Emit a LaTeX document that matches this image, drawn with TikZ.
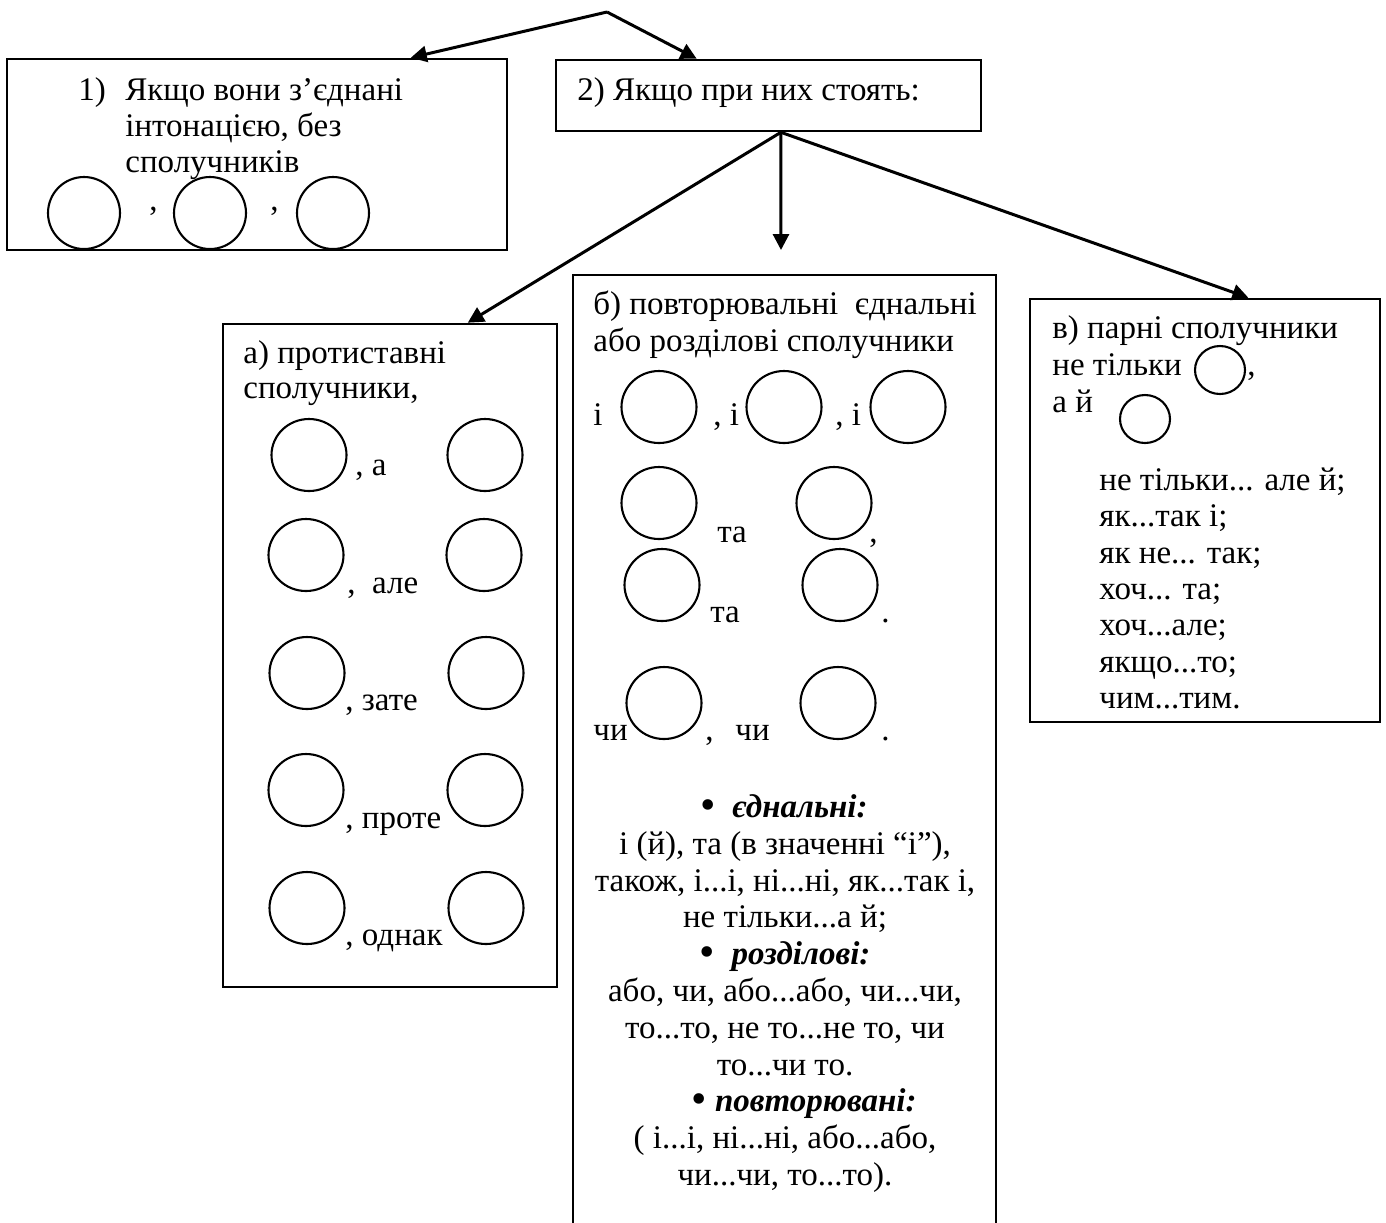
\documentclass[tikz,border=0pt]{standalone}
\usepackage{fontspec}
\setmainfont{Liberation Serif}
\usetikzlibrary{arrows.meta,shapes.geometric,calc}
\newcommand{\bigbul}{{\fontsize{22}{22}\selectfont\raisebox{-0.05em}{•}}}
\begin{document}
\begin{tikzpicture}[x=0.5pt,y=-0.5pt,
  every node/.style={font=\fontsize{16.5}{18}\selectfont},
  box/.style={draw,line width=1.3pt,rectangle,inner sep=0pt},
  blob/.style={draw,line width=1.05pt,ellipse,inner sep=0pt,minimum width=37.5pt,minimum height=36pt},
  sblob/.style={blob,minimum width=25pt,minimum height=24pt},
  txt/.style={anchor=base west,inner sep=0pt},
  ctxt/.style={anchor=base,inner sep=0pt},
  arr/.style={line width=1.5pt,-{Triangle[length=8pt,width=8pt]}},
]
\useasboundingbox (0,0) rectangle (1386,1222);
\clip (0,0) rectangle (1386,1222);
\fill[white] (0,0) rectangle (1386,1222);

% boxes
\node[box,minimum width=250pt,minimum height=95.5pt] (b1) at (257,154.5) {};
\node[box,minimum width=212.5pt,minimum height=35.5pt] (b2) at (768.5,95.5) {};
\node[box,minimum width=167pt,minimum height=331.5pt] (ba) at (390,655.5) {};
\node[box,minimum width=211.5pt,minimum height=487.5pt] (bb) at (784.5,762.5) {};
\node[box,minimum width=175pt,minimum height=211.5pt] (bv) at (1205,510.5) {};

% connectors
\coordinate (apex) at (607,12);
\coordinate (t1) at ($(b1.north west)!0.806!(b1.north east)$);
\coordinate (t2) at ($(b2.north west)!0.332!(b2.north east)$);
\coordinate (s2) at ($(b2.south west)!0.529!(b2.south east)$);
\coordinate (ta) at ($(ba.north west)!0.731!(ba.north east)$);
\coordinate (tv) at ($(bv.north west)!0.623!(bv.north east)$);
\coordinate (down) at (781,250);
\draw[arr] (apex) -- (t1);
\draw[arr] (apex) -- (t2);
\draw[arr] (s2) -- (ta);
\draw[arr] (s2) -- (down);
\draw[arr] (s2) -- (tv);

% box 1
\node[txt] (n1) at (78,100) {1)};
\node[txt] (l1a) at (125,100) {Якщо вони з’єднані};
\node[txt] (l1b) at (125,136) {інтонацією, без};
\node[txt] (l1c) at (125,172) {сполучників};
\node[blob,minimum width=36pt] (c11) at (84,213) {};
\node[blob,minimum width=36pt] (c12) at (210,213) {};
\node[blob,minimum width=36pt] (c13) at (333,213) {};
\node[txt] (k11) at (149,210) {,};
\node[txt] (k12) at (270,210) {,};

% box 2
\node[txt] (l2) at (577,100) {2) Якщо при них стоять:};

% box a
\node[txt] (la1) at (243,363) {а) протиставні};
\node[txt] (la2) at (243,398) {сполучники,};
\node[blob] (a1l) at (309,455) {};
\node[blob] (a1r) at (485,455) {};
\node[blob] (a2l) at (306,555) {};
\node[blob] (a2r) at (484,555) {};
\node[blob] (a3l) at (307,673) {};
\node[blob] (a3r) at (486,673) {};
\node[blob] (a4l) at (306,790) {};
\node[blob] (a4r) at (485,790) {};
\node[blob] (a5l) at (307,908) {};
\node[blob] (a5r) at (486,908) {};
\node[txt] (wa1) at (355,475) {, а};
\node[txt] (wa2) at (347,593) {,\ \ але};
\node[txt] (wa3) at (345,710) {, зате};
\node[txt] (wa4) at (345,828) {, проте};
\node[txt] (wa5) at (345,945) {, однак};

% box b
\node[txt] (lb1) at (593,314) {б) повторювальні\ \ єднальні};
\node[txt] (lb2) at (593,351) {або розділові сполучники};
\node[txt] (r1a) at (593,425) {і};
\node[blob] (b11) at (659,407) {};
\node[txt] (r1b) at (713,425) {, і};
\node[blob] (b12) at (784,407) {};
\node[txt] (r1c) at (835,425) {, і};
\node[blob] (b13) at (908,407) {};
\node[blob] (b21) at (659,503) {};
\node[txt] (r2a) at (717,542) {та};
\node[blob] (b22) at (834,503) {};
\node[txt] (r2b) at (869,542) {,};
\node[blob] (b31) at (662,585) {};
\node[txt] (r3a) at (710,622) {та};
\node[blob] (b32) at (840,585) {};
\node[txt] (r3b) at (881,622) {.};
\node[txt] (r4a) at (593,740) {чи};
\node[blob] (b41) at (664,703) {};
\node[txt] (r4b) at (705,740) {,};
\node[txt] (r4c) at (735,740) {чи};
\node[blob] (b42) at (838,703) {};
\node[txt] (r4d) at (881,740) {.};

\node[ctxt] (e1) at (784,817) {\bigbul\hspace{0.5em}\textbf{\textit{єднальні:}}};
\node[ctxt] (e2) at (785,854) {і (й), та (в значенні “і”),};
\node[ctxt] (e3) at (785,891) {також, і...і, ні...ні, як...так і,};
\node[ctxt] (e4) at (785,927) {не тільки...а й;};
\node[ctxt] (e5) at (785,964) {\bigbul\hspace{0.5em}\textbf{\textit{розділові:}}};
\node[ctxt] (e6) at (785,1001) {або, чи, або...або, чи...чи,};
\node[ctxt] (e7) at (785,1038) {то...то, не то...не то, чи};
\node[ctxt] (e8) at (785,1075) {то...чи то.};
\node[ctxt] (e9) at (804,1111) {\bigbul\hspace{0.25em}\textbf{\textit{повторювані:}}};
\node[ctxt] (e10) at (785,1148) {( і...і, ні...ні, або...або,};
\node[ctxt] (e11) at (785,1185) {чи...чи, то...то).};

% box v
\node[txt] (lv1) at (1052,338) {в) парні сполучники};
\node[txt] (lv2) at (1052,375) {не тільки};
\node[sblob] (v1) at (1220,370) {};
\node[txt] (lv3) at (1247,375) {,};
\node[txt] (lv4) at (1052,412) {а й};
\node[sblob] (v2) at (1145,419) {};
\node[txt] (p1) at (1099,490) {не тільки... але й;};
\node[txt] (p2) at (1099,526) {як...так і;};
\node[txt] (p3) at (1099,563) {як не... так;};
\node[txt] (p4) at (1099,599) {хоч... та;};
\node[txt] (p5) at (1099,635) {хоч...але;};
\node[txt] (p6) at (1099,672) {якщо...то;};
\node[txt] (p7) at (1099,708) {чим...тим.};
\end{tikzpicture}
\end{document}
